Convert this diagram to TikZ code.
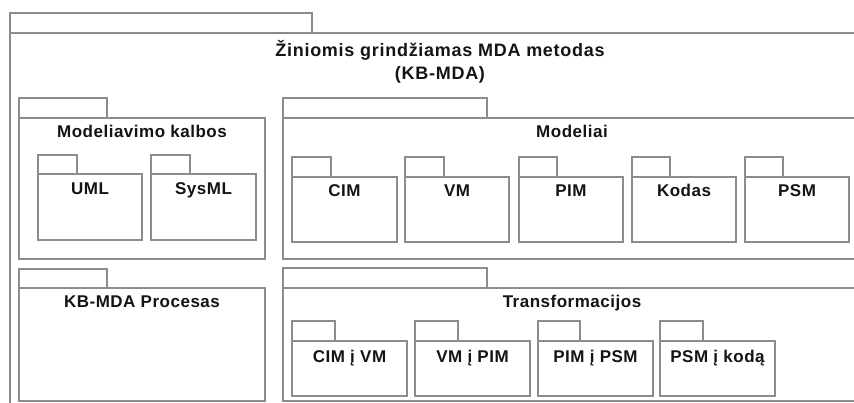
\documentclass[tikz,border=0pt]{standalone}
\usepackage{fontspec}
\setmainfont{Liberation Sans}
\newfontfamily\lblfont[LetterSpace=3.0]{Liberation Sans}
\newfontfamily\ttlfont[LetterSpace=4.0]{Liberation Sans}
\definecolor{pkggray}{RGB}{140,140,140}
\definecolor{txtcol}{RGB}{20,20,20}
\tikzset{
  pkgline/.style={draw=pkggray, line width=1.1pt},
  lbl/.style={anchor=base, inner sep=0pt, text=txtcol, font=\lblfont\bfseries\fontsize{17}{20}\selectfont},
  ttl/.style={anchor=base, inner sep=0pt, text=txtcol, font=\ttlfont\bfseries\fontsize{18}{21}\selectfont},
}
% #1 x1, #2 y tab top, #3 x tab right, #4 y body top, #5 x2, #6 y2
\newcommand{\umlpkg}[6]{%
  \draw[pkgline] (#1,#2) rectangle (#3,#4);
  \draw[pkgline] (#1,#4) rectangle (#5,#6);
}
\begin{document}
\begin{tikzpicture}[x=1pt,y=-1pt]
\useasboundingbox (0,0) rectangle (854,403);
\clip (0,0) rectangle (854,403);
\fill[white] (0,0) rectangle (854,403);
% outer package
\umlpkg{10}{13}{312}{33}{870}{420}
\node[ttl] (title1) at (440,57) {Žiniomis grindžiamas MDA metodas};
\node[ttl] (title2) at (440,80) {(KB-MDA)};
% Modeliavimo kalbos
\umlpkg{19}{98}{107}{118}{265}{259}
\node[lbl] (mk) at (142,138) {Modeliavimo kalbos};
\umlpkg{38}{155}{77}{174}{142}{240}
\node[lbl] (uml) at (90,195) {UML};
\umlpkg{151}{155}{190}{174}{256}{240}
\node[lbl] (sysml) at (203.5,195) {SysML};
% Modeliai
\umlpkg{283}{98}{487}{118}{861}{259}
\node[lbl] (mod) at (572,138) {Modeliai};
\umlpkg{292}{157}{331}{177}{397}{242}
\node[lbl] (cim) at (344.5,197) {CIM};
\umlpkg{405}{157}{444}{177}{509}{242}
\node[lbl] (vm) at (457,197) {VM};
\umlpkg{519}{157}{557}{177}{623}{242}
\node[lbl] (pim) at (571,197) {PIM};
\umlpkg{632}{157}{670}{177}{736}{242}
\node[lbl] (kodas) at (684,197) {Kodas};
\umlpkg{745}{157}{783}{177}{849}{242}
\node[lbl] (psm) at (797,197) {PSM};
% KB-MDA Procesas
\umlpkg{19}{269}{107}{288}{265}{401}
\node[lbl] (proc) at (142,308) {KB-MDA Procesas};
% Transformacijos
\umlpkg{283}{268}{487}{288}{861}{401}
\node[lbl] (tr) at (572,308) {Transformacijos};
\umlpkg{292}{321}{335}{341}{407}{396}
\node[lbl] (c2v) at (349.5,362) {CIM į VM};
\umlpkg{415}{321}{458}{341}{530}{396}
\node[lbl] (v2p) at (472.5,362) {VM į PIM};
\umlpkg{538}{321}{580}{341}{653}{396}
\node[lbl] (p2p) at (595.5,362) {PIM į PSM};
\umlpkg{660}{321}{703}{341}{775}{396}
\node[lbl] (p2k) at (717.5,362) {PSM į kodą};
\end{tikzpicture}
\end{document}
